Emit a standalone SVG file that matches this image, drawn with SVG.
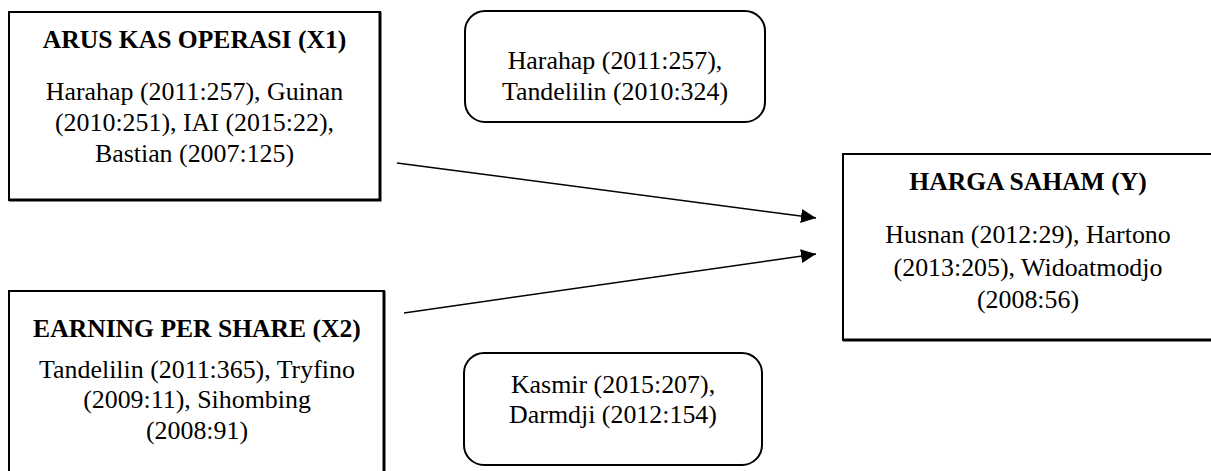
<svg xmlns="http://www.w3.org/2000/svg" width="1211" height="471" viewBox="0 0 1211 471">
<style>
.box{fill:#fff;stroke:#000;stroke-width:2}
.edge{fill:none;stroke:#000;stroke-width:3}
.t{font-family:'Liberation Serif','DejaVu Serif',serif;font-size:25.9px;fill:#000;text-anchor:middle}
.b{font-weight:bold;font-size:25.6px}
.conn{stroke:#000;stroke-width:1.5;fill:none}
</style>
<defs>
<marker id="ah" markerWidth="15" markerHeight="14" refX="15" refY="7" orient="auto" markerUnits="userSpaceOnUse">
<path d="M0,0 L15,7 L0,14 Z" fill="#000"/>
</marker>
</defs>
<rect width="1211" height="471" fill="#fff"/>
<g id="x1">
<rect class="box" x="9" y="12" width="371" height="188"/>
<path class="edge" d="M380,12 V200 H9"/>
<text class="t b" x="194.5" y="48">ARUS KAS OPERASI (X1)</text>
<text class="t" x="194.5" y="100">Harahap (2011:257), Guinan</text>
<text class="t" x="194.5" y="131">(2010:251), IAI (2015:22),</text>
<text class="t" x="194.5" y="162">Bastian (2007:125)</text>
</g>
<g id="ref1">
<rect class="box" x="465" y="11" width="300" height="111" rx="20" ry="20"/>
<text class="t" x="615" y="69">Harahap (2011:257),</text>
<text class="t" x="615" y="100">Tandelilin (2010:324)</text>
</g>
<g id="x2">
<rect class="box" x="9" y="291" width="375" height="200"/>
<path class="edge" d="M384,291 V491"/>
<text class="t b" x="197" y="337">EARNING PER SHARE (X2)</text>
<text class="t" x="197" y="378">Tandelilin (2011:365), Tryfino</text>
<text class="t" x="197" y="408">(2009:11), Sihombing</text>
<text class="t" x="197" y="439">(2008:91)</text>
</g>
<g id="ref2">
<rect class="box" x="464" y="353" width="298" height="112" rx="20" ry="20"/>
<text class="t" x="613" y="393">Kasmir (2015:207),</text>
<text class="t" x="613" y="423">Darmdji (2012:154)</text>
</g>
<g id="y">
<rect class="box" x="843" y="154" width="380" height="186"/>
<path class="edge" d="M1223,340 H843"/>
<text class="t b" x="1028" y="190">HARGA SAHAM (Y)</text>
<text class="t" x="1028" y="243">Husnan (2012:29), Hartono</text>
<text class="t" x="1028" y="276">(2013:205), Widoatmodjo</text>
<text class="t" x="1028" y="308">(2008:56)</text>
</g>
<g id="connectors">
<line class="conn" x1="397" y1="163" x2="816" y2="218" marker-end="url(#ah)"/>
<line class="conn" x1="404" y1="313" x2="816" y2="254" marker-end="url(#ah)"/>
</g>
</svg>
